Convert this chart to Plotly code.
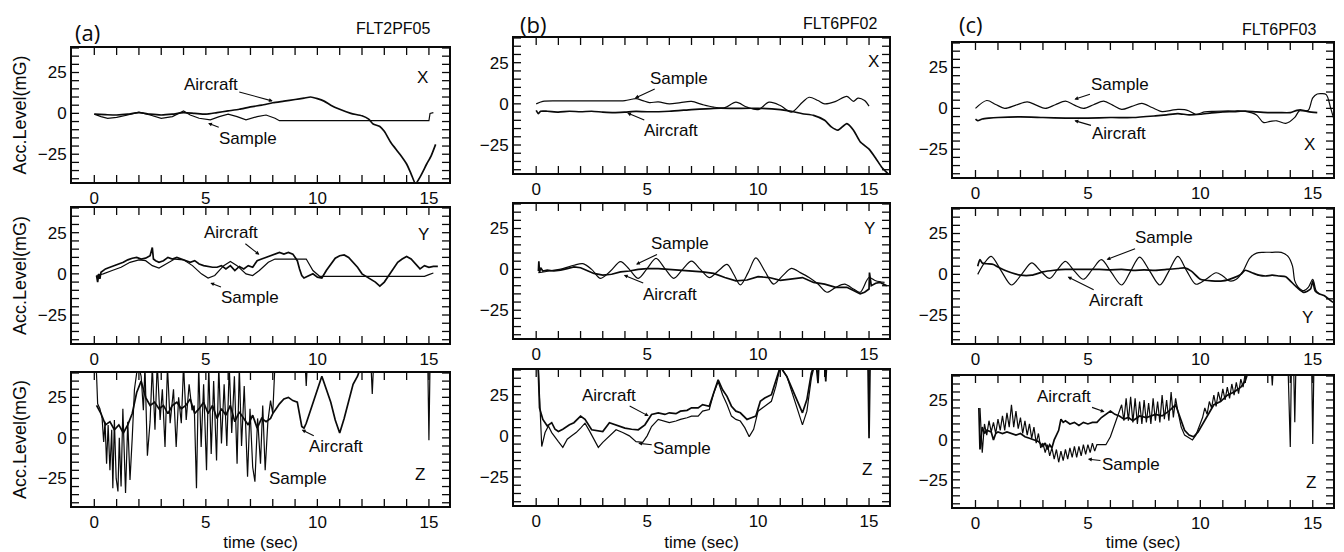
import plotly.graph_objects as go

# ---------------- data: time (sec) / acceleration level (mG) ----------------
# (a) FLT2PF05
aX_air_t = [0, 0.5, 1, 1.5, 2, 2.5, 3, 3.5, 4, 4.5, 5, 5.5, 6, 6.5, 7, 7.5, 8, 8.5, 9, 9.4,
            9.7, 10, 10.3, 10.6, 11, 11.5, 12, 12.3, 12.5, 12.8, 13, 13.3, 13.7, 14, 14.2, 14.4, 14.6, 14.9, 15.1, 15.3]
aX_air_v = [-0.5, -0.8, -1, -0.5, 0.5, -0.5, -1, -0.5, 0.5, 0, -0.5, 0.5, 1.5, 2.5, 4, 5, 6.5, 7.5, 8.5, 9.3,
            10, 9, 7.5, 5, 2.5, 0, -1.5, -3.5, -6.5, -8, -11, -18, -25, -31, -37, -43, -39, -31, -26, -19]
aX_smp_t = [0, 0.3, 0.6, 1, 1.5, 2, 2.5, 3, 3.5, 4, 4.3, 4.7, 5.2, 5.6, 6, 6.4, 6.8, 7.3, 7.7, 8.1, 8.3, 15, 15.05, 15.2]
aX_smp_v = [-0.5, -2, -3, -2.5, -1, 0.8, -1, -3, -2, 1.5, -1, -3, -4, -2, -0.5, -2, -4, -2, -1, -3, -4.5, -4.5, 0, 0.5]

aY_air_t = [0.1, 0.15, 0.2, 0.25, 0.3, 0.5, 0.7, 0.9, 1.1, 1.3, 1.5, 1.7, 1.9, 2.1, 2.3, 2.5, 2.6, 2.65, 2.75, 2.9,
            3.1, 3.3, 3.5, 3.7, 3.9, 4.1, 4.3, 4.5, 4.7, 4.9, 5.1, 5.3, 5.5, 5.7, 5.9, 6.1, 6.3, 6.5, 6.7, 6.9,
            7.1, 7.3, 7.5, 7.7, 7.9, 8.1, 8.3, 8.5, 8.7, 8.9, 9.1, 9.2, 9.3, 9.4, 9.6, 9.8, 10.0, 10.2, 10.4, 10.6,
            10.8, 11.0, 11.2, 11.4, 11.6, 11.8, 12.0, 12.2, 12.4, 12.6, 12.8, 13.0, 13.2, 13.4, 13.6, 13.8, 14.0, 14.2, 14.4, 14.6,
            14.8, 15.0, 15.2, 15.4]
aY_air_v = [-1, -5, 0, -3, 1, 3, 4, 5, 6, 7, 8.5, 9.5, 10, 9, 9.5, 11, 16, 9, 8, 7,
            8, 10, 9, 10, 9, 8, 7, 8, 6, 5, 4.5, 4, 4, 5, 3, 5, 2, 4.5, 3, 5,
            4, 8, 9, 10, 11, 12, 13, 12, 13, 12, 8, 3, -1, -2.5, -1, 0, -2, -2.5, 2, 6,
            9.5, 11, 11.5, 10, 7, 4, 0, -1.5, -3, -5, -7.5, -5, -1, 3, 7, 9, 10.5, 9, 6, 3,
            5, 4, 4.5, 4.5]
aY_smp_t = [0.1, 0.4, 0.8, 1.2, 1.6, 2.0, 2.3, 2.6, 2.9, 3.2, 3.6, 4.0, 4.4, 4.8, 5.1, 5.4, 5.8, 6.1, 6.4, 6.8,
            7.1, 7.4, 7.8, 8.1, 8.6, 9.1, 9.5, 9.8, 10.1, 10.6, 12.0, 14.8, 15.0, 15.2]
aY_smp_v = [-1, 0, 2, 4, 7, 8.5, 8, 5, 3.5, 6, 9, 8.5, 5, 0, -2.5, -1, 5, 7.5, 5, 0,
            -1, 2, 7, 9, 9, 9, 9, 2, -1.5, -1.5, -1.5, -1.5, -0.5, 0.5]

aZ_air_t = [0.1, 0.3, 0.5, 0.7, 0.9, 1.1, 1.3, 1.5, 1.7, 1.9, 2.1, 2.3, 2.5, 2.7, 2.9, 3.1, 3.3, 3.5, 3.7, 3.9,
            4.1, 4.3, 4.5, 4.7, 4.9, 5.1, 5.3, 5.5, 5.7, 5.9, 6.1, 6.3, 6.5, 6.7, 6.9, 7.1, 7.3, 7.5, 7.7, 7.9,
            8.0, 8.15, 8.3, 8.5, 8.7, 8.9, 9.1, 9.3, 9.4, 9.5, 9.8, 10.0, 10.2, 10.4, 10.6, 10.8, 11.0, 11.2, 11.4, 11.6,
            11.8, 12.0, 15.3]
aZ_air_v = [20, 15, 8, 10, 5, 8, 3, 8, 15, 28, 35, 25, 20, 22, 18, 20, 15, 20, 22, 18,
            20, 24, 15, 18, 22, 15, 20, 12, 18, 14, 20, 10, 16, 12, 8, 14, 6, 12, 10, 12,
            15, 18, 21, 24, 25, 23, 22, 7, 6, 9, 21, 30, 38, 30, 22, 11, 3, 12, 22, 33,
            38, 46, 46]
aZ_smp_t = [0.08, 0.15, 0.25, 0.35, 0.42, 0.48, 0.55, 0.62, 0.7, 0.78, 0.83, 0.9, 0.98, 1.06, 1.12, 1.2, 1.28, 1.35, 1.4, 1.5,
            1.6, 1.7, 1.8, 1.96, 2.1, 2.2, 2.27, 2.38, 2.5, 2.6, 2.72, 2.82, 2.95, 3.05, 3.17, 3.28, 3.4, 3.55, 3.67, 3.78,
            3.9, 4.0, 4.12, 4.25, 4.38, 4.48, 4.58, 4.68, 4.79, 4.9, 5.03, 5.13, 5.24, 5.35, 5.48, 5.58, 5.7, 5.82, 5.94, 6.05,
            6.16, 6.28, 6.4, 6.5, 6.6, 6.72, 6.87, 6.98, 7.1, 7.2, 7.32, 7.45, 7.55, 7.66, 7.78, 7.9, 8.0, 8.1, 9.45, 9.5,
            9.55, 12.4, 12.46, 12.52, 14.95, 15.0, 15.05, 15.1]
aZ_smp_v = [46, 21, 18, 12, -2.5, 10, -16, 8, -20, 5, -31, 11, -25, -33, 0, -30, 18, -22, -34, 10,
            -26, 0, 30, 46, 38, 17, 44, -11, 10, 44, 5, 46, 11, 30, -5.6, 44, 9, 30, -5.6, 25,
            9, 44, 11, 33, 17, 20, -31, 44, -5.6, 33, -20, 44, -10, 35, -14, 44, -3.5, 33, -5, 44,
            3, 38, -16, 44, -5, 32, -24, 18, -18, -27, 12, -16, 20, -20, 10, 23, 15, 46, 46, 32,
            46, 46, 27, 46, 46, -1.5, 46, 46]

# (b) FLT6PF02
bX_air_t = [0, 0.1, 0.2, 0.5, 1, 1.5, 2, 2.5, 3, 3.5, 4, 4.5, 5, 6, 7, 8, 9, 10, 11, 11.5,
            12, 12.5, 13, 13.3, 13.6, 14, 14.3, 14.6, 15, 15.3, 15.6, 15.9]
bX_air_v = [-4, -6, -4.5, -4.5, -5, -4.5, -4.8, -4.5, -5, -5.3, -5, -4.6, -4.8, -4.5, -3.5, -2.7, -2.7, -2.7, -3.5, -4.5,
            -6, -7, -10, -14, -16, -12, -16, -23, -27.5, -33, -39, -43]
bX_smp_t = [0, 0.3, 1, 2, 3, 4, 4.3, 4.5, 4.8, 5.1, 5.5, 6, 6.5, 7, 7.5, 8, 8.5, 9, 9.5, 10,
            10.5, 11, 11.5, 12, 12.3, 12.7, 13, 13.5, 14, 14.3, 14.5, 14.8, 15]
bX_smp_v = [0, 1.5, 1.8, 1.8, 1.8, 2, 2.8, 3.2, 2, 0.8, 1.2, 0, 0.8, 1.5, -0.5, -2, -2.3, 1, -2, -3.5,
            1, -1, -5, 1, 4, 2, 0, 1.5, 4.5, 1.5, 3.5, 2, -1.4]

bY_air_t = [0.1, 0.12, 0.15, 0.2, 0.3, 0.5, 0.8, 1.1, 1.4, 1.7, 2.0, 2.3, 2.6, 3.0, 3.4, 3.8, 4.2, 4.6, 5.0, 5.5,
            6.0, 6.5, 7.0, 7.5, 8.0, 8.5, 9.0, 9.5, 10.0, 10.5, 11.0, 11.5, 12.0, 12.5, 13.0, 13.5, 14.0, 14.3, 14.6, 14.8,
            15.0, 15.02, 15.1, 15.3, 15.5, 15.8]
bY_air_v = [-1, 5, -2, 1, -1, -0.5, -1, -0.5, 0.5, 1.5, 1, -1, -2.5, -3.5, -3, -1.5, -1, 0, 0.5, 0.5,
            0, -0.5, -1, -1.5, -2.5, -5, -7, -6.5, -4.5, -5, -6.7, -6, -5, -8, -9, -11, -11, -13, -15, -14,
            -12, -2, -10, -8.5, -8, -10]
bY_smp_t = [0.1, 0.6, 1.2, 1.7, 2.1, 2.5, 2.9, 3.35, 3.8, 4.2, 4.6, 5.0, 5.4, 5.8, 6.2, 6.6, 7.0, 7.4, 7.8, 8.2,
            8.6, 8.9, 9.2, 9.55, 9.9, 10.3, 10.7, 11.1, 11.5, 11.9, 12.3, 12.7, 13.1, 13.5, 13.9, 14.3, 14.6, 15.0, 15.3, 15.7]
bY_smp_v = [-2, -1, 0.5, 2.5, 3.5, 0, -5.5, -1, 4.7, 0, -5.5, 0.5, 6.7, 0.5, -5.5, 0, 5, 0, -5, -1,
            3, -3, -9.5, -2, 7, -1, -9, -4, 0.6, -2, -5, -9, -14, -11, -9, -12, -14, -5, -7, -8]

bZ_air_t = [0.08, 0.15, 0.3, 0.5, 0.7, 0.85, 1.0, 1.2, 1.5, 1.7, 2.0, 2.2, 2.5, 2.8, 3.0, 3.3, 3.5, 3.7, 4.0, 4.3,
            4.6, 4.9, 5.2, 5.5, 5.8, 6.0, 6.3, 6.5, 6.8, 7.0, 7.3, 7.5, 7.8, 8.0, 8.2, 8.4, 8.6, 8.8, 9.0, 9.2,
            9.5, 9.7, 9.9, 10.1, 10.3, 10.6, 10.8, 11.0, 11.3, 11.5, 11.8, 12.0, 12.2, 12.4, 12.6, 12.7, 12.75, 12.8, 13.0, 13.05,
            13.1, 14.95, 15.0, 15.05, 15.3]
bZ_air_v = [46, 17, 10, 6, 8, 4, 2.6, 4, 6.7, 8, 12, 10, 3.7, 3, 2.6, 8, 7, 6, 4.7, 4,
            3.7, 6.7, 13, 14, 13, 14, 13.5, 15, 15.5, 17, 17, 19, 18, 26, 34, 28, 24, 18, 15, 14,
            10, 11, 12, 21, 23, 25, 33, 42, 36, 30, 20, 14, 22, 38, 46, 32, 46, 46, 46, 33,
            46, 46, -1.5, 46, 46]
bZ_smp_t = [0.08, 0.25, 0.4, 0.55, 0.7, 0.85, 1.0, 1.2, 1.4, 1.6, 1.8, 2.0, 2.2, 2.4, 2.6, 2.8, 3.0, 3.3, 3.6, 3.9,
            4.2, 4.5, 4.8, 5.0, 5.2, 5.5, 5.8, 6.0, 6.3, 6.5, 6.8, 7.0, 7.3, 7.5, 7.8, 8.0, 8.2, 8.4, 8.6, 8.8,
            9.0, 9.2, 9.4, 9.6, 9.8, 10.0, 10.3, 10.6, 10.8, 11.0, 11.3, 11.5, 11.8, 12.0, 12.2, 12.4, 12.6]
bZ_smp_v = [46, -6.5, 2, 6, 2, -1, -3.5, -7, -2, 0, 2, 4.7, 7.7, 3, -2, -7, -4, 0, 3.7, 2,
            0, -3.5, -4, 0, 5.7, 10, 9, 8, 9, 10, 11, 12, 12, 15, 16, 26, 33, 25, 19, 12,
            10, 9, 5, -0.5, 4, 15, 18, 21, 30, 42, 36, 28, 15, 6.7, 15, 35, 46]

# (c) FLT6PF03
cX_air_t = [0, 0.1, 0.3, 0.6, 1, 2, 3, 4, 5, 6, 7, 8, 8.5, 9, 9.5, 10, 10.5, 11, 11.5, 12,
            12.5, 13, 13.5, 14, 14.3, 14.5, 14.8, 15.2]
cX_air_v = [-6.6, -7.5, -6.5, -6, -5.6, -5.2, -5.6, -6, -6, -5.6, -5.6, -4.6, -4, -3.2, -4, -3.6, -2.8, -2.2, -2, -1.6,
            -2.2, -2.6, -2.6, -2.6, -1.2, -1, -2, -2.6]
cX_smp_t = [0, 0.5, 0.9, 1.3, 1.8, 2.3, 2.7, 3.1, 3.55, 4.0, 4.4, 4.8, 5.25, 5.7, 6.1, 6.5, 6.95, 7.4, 7.85, 8.3,
            8.7, 9.0, 9.3, 9.5, 9.8, 10.2, 10.6, 11, 11.5, 12, 12.5, 12.8, 13.1, 13.4, 13.8, 14.2, 14.4, 14.6, 14.8, 15.0,
            15.2, 15.4, 15.6, 15.8, 16.0]
cX_smp_v = [0, 4.8, 2.4, 0, 2, 4, 2, 0, 2.2, 4.4, 2, 0, 2.2, 4.4, 2, -0.6, 1.2, 3, 0.5, -2,
            -1.2, -0.6, -0.8, -1.6, -3.6, -2.2, -1.8, -1.6, -1.6, -1.8, -4, -8.6, -8, -7.6, -9.2, -5.5, -1.6, -1.6, -1.2, 6.4,
            8.8, 9, 8.4, 0, -9.6]

cY_air_t = [0.1, 0.2, 0.3, 0.5, 0.8, 1.0, 1.3, 1.6, 2.0, 2.5, 3.0, 3.5, 4.0, 4.5, 5.0, 5.5, 6.0, 6.5, 7.0, 7.5,
            8.0, 8.5, 9.0, 9.3, 9.6, 10.0, 10.5, 11.0, 11.5, 11.8, 12.0, 12.3, 12.6, 12.9, 13.2, 13.5, 13.8, 14.0, 14.3, 14.6,
            14.9, 15.0, 15.1, 15.3, 15.5, 15.7, 15.9, 16.0]
cY_air_v = [5, 9, 7, 6.5, 6, 4.5, 2.5, 1, -0.5, -0.5, 1.5, 2.5, 3, 3, 3, 3, 2.8, 3, 2.5, 2.7,
            2.5, 3, 3.6, 4, 2, -3, -4, -4, -2, 0, 2.5, 1, -0.5, -1, -0.5, -1, -1.5, -4, -8, -11,
            -9, -4, -10, -12, -13, -15, -17, -14]
cY_smp_t = [0.1, 0.4, 0.7, 1.15, 1.6, 2.05, 2.5, 2.9, 3.3, 3.65, 4.0, 4.4, 4.8, 5.2, 5.6, 6.05, 6.5, 6.9, 7.3, 7.75,
            8.2, 8.6, 9.0, 9.4, 9.8, 10.25, 10.7, 11.0, 11.3, 11.6, 11.9, 12.2, 12.5, 12.8, 13.2, 13.6, 13.9, 14.1, 14.2, 14.35,
            14.6, 14.8, 15.0, 15.15, 15.3]
cY_smp_v = [0, 7, 11, 2, -6.5, 0, 7, 2, -2.5, 3, 8, 2, -3, 3, 9, 1, -6.5, 2, 10.6, 2,
            -6.5, 2, 11, 2, -6, -3, 1, -1, -4, -3, 2, 10, 13, 13.5, 13.5, 13.5, 11, 5, -4, -7.8,
            -10, -8, -3, -10, -12]

cZ_air_t = [0.15, 0.2, 0.3, 0.4, 0.5, 0.7, 0.8, 0.9, 1.0, 1.2, 1.4, 1.6, 1.8, 2.0, 2.2, 2.4, 2.6, 2.8, 3.0, 3.1,
            3.2, 3.3, 3.4, 3.5, 3.6, 3.7, 3.8, 3.9, 4.0, 4.2, 4.4, 4.6, 4.8, 5.0, 5.2, 5.4, 5.6, 5.8, 6.0, 6.2,
            6.4, 6.6, 6.8, 7.0, 7.3, 7.6, 8.0, 8.3, 8.6, 8.9, 9.1, 9.3, 9.5, 9.7, 9.9, 10.1, 10.3, 10.6, 10.9, 11.2,
            11.5, 11.8, 12.0, 12.2, 15.3]
cZ_air_v = [20, -6, 8, 4, 6, 5, 0, 4, 5, 4, 5, 4, 3, 4, 2, 1, 0, -1, -4, -2,
            -6, -3, -5, 0, 3, 6, 13, 11, 12, 10, 11, 9, 11, 10, 11, 11, 14, 16, 18, 16,
            15, 13, 14, 12, 15, 14, 16, 15, 18, 22, 14, 6, 3, 2, 5, 10, 15, 22, 24, 28,
            30, 33, 37, 46, 46]
cZ_smp_t = [0.2, 0.3, 0.4, 0.5, 0.6, 0.7, 0.8, 0.9, 1.0, 1.1, 1.2, 1.3, 1.4, 1.5, 1.6, 1.7, 1.8, 1.9, 2.0, 2.1,
            2.2, 2.3, 2.4, 2.5, 2.6, 2.7, 2.8, 2.9, 3.0, 3.1, 3.2, 3.3, 3.4, 3.5, 3.6, 3.7, 3.8, 3.9, 4.0, 4.1,
            4.2, 4.3, 4.4, 4.5, 4.6, 4.7, 4.8, 4.9, 5.0, 5.1, 5.2, 5.3, 5.4, 5.6, 5.8, 6.0, 6.2, 6.35, 6.5, 6.6,
            6.7, 6.8, 6.9, 7.0, 7.1, 7.2, 7.3, 7.4, 7.5, 7.6, 7.7, 7.8, 7.9, 8.0, 8.1, 8.2, 8.3, 8.4, 8.5, 8.6,
            8.7, 8.8, 8.9, 9.0, 9.15, 9.3, 9.5, 9.65, 9.8, 9.95, 10.1, 10.2, 10.3, 10.4, 10.5, 10.6, 10.7, 10.8, 10.9, 11.0,
            11.1, 11.2, 11.3, 11.4, 11.5, 11.6, 11.7, 11.8, 11.9, 12.0, 12.1, 13.15, 13.2, 13.25, 13.9, 14.0, 14.05, 14.15, 14.2, 14.25,
            14.95, 15.0, 15.05, 15.3]
cZ_smp_v = [20, -8, 10, 3, 12, 5, 11, 4, 13, 6, 15, 6, 17, 8, 22, 8, 18, 7, 14, 4,
            12, 3, 10, 1, 8, -2, 4, -5, -2, -8, -3, -10, -5, -12, -6, -14, -7, -13, -6, -12,
            -5, -11, -4, -11, -4, -10, -3, -9, -3, -8, -2, -7, -3, -3, -3, 2, 10, 16, 22, 12,
            26, 12, 27, 11, 26, 10, 24, 10, 25, 11, 23, 10, 26, 12, 24, 11, 28, 13, 25, 12,
            30, 14, 26, 18, 8, 3, 1, 0, 3, 8, 14, 20, 16, 24, 20, 28, 21, 30, 24, 32,
            25, 33, 26, 35, 28, 36, 29, 38, 33, 42, 46, 46, 34, 46, 46, -4.5, 46, 46, 11, 46,
            46, -2.5, 46, 46]

# tick positions (sec, mG) and the values that carry a label
x_ticks = list(range(0, 16))
x_labelled = [0, 5, 10, 15]
y_ticks = list(range(-40, 41, 5))
y_labelled = [-25, 0, 25]

# ---------------- figure layout ----------------
W, H = 1344, 552
FONT = "Liberation Sans"
INK = "#0a0a0a"

series = [
    [(aX_air_t, aX_air_v, aX_smp_t, aX_smp_v), (bX_air_t, bX_air_v, bX_smp_t, bX_smp_v), (cX_air_t, cX_air_v, cX_smp_t, cX_smp_v)],
    [(aY_air_t, aY_air_v, aY_smp_t, aY_smp_v), (bY_air_t, bY_air_v, bY_smp_t, bY_smp_v), (cY_air_t, cY_air_v, cY_smp_t, cY_smp_v)],
    [(aZ_air_t, aZ_air_v, aZ_smp_t, aZ_smp_v), (bZ_air_t, bZ_air_v, bZ_smp_t, bZ_smp_v), (cZ_air_t, cZ_air_v, cZ_smp_t, cZ_smp_v)],
]
# spline rendering for the slowly varying traces: (aircraft, sample) per panel
smooth = [
    [(True, False), (True, True), (True, True)],
    [(False, False), (False, True), (True, True)],
    [(False, False), (False, False), (False, False)],
]

# panel frames in pixels: column left/right, and per column the row top/bottom
col_px = [(72, 449), (514, 889), (953, 1333)]
row_px = [
    [(48, 182), (208, 343), (373, 506)],
    [(38, 173), (204, 338), (370, 505)],
    [(43, 177), (209, 343), (376, 507)],
]
x_range = [-1.0, 15.9]
y_range = [-42, 40]
TICK_PX = 7


def fmt(v):
    return ("\u2212" + str(-v)) if v < 0 else str(v)


x_text = [fmt(v) if v in x_labelled else "" for v in x_ticks]
y_text = [fmt(v) if v in y_labelled else "" for v in y_ticks]


def tick_marks(w_px, h_px):
    """Inward tick marks on all four frame sides, in the panel's data units."""
    dy = TICK_PX / h_px * (y_range[1] - y_range[0])
    dx = TICK_PX / w_px * (x_range[1] - x_range[0])
    xs, ys = [], []
    for tv in x_ticks:
        xs += [tv, tv, None, tv, tv, None]
        ys += [y_range[0], y_range[0] + dy, None, y_range[1], y_range[1] - dy, None]
    for tv in y_ticks:
        xs += [x_range[0], x_range[0] + dx, None, x_range[1], x_range[1] - dx, None]
        ys += [tv, tv, None, tv, tv, None]
    return xs, ys


fig = go.Figure()
layout = dict(
    width=W, height=H, margin=dict(l=0, r=0, t=0, b=0), template="simple_white",
    showlegend=False, font=dict(family=FONT, size=17, color=INK),
)

for r in range(3):
    for c in range(3):
        k = r * 3 + c + 1
        sx = "" if k == 1 else str(k)
        at, av, st, sv = series[r][c]
        assert len(at) == len(av) and len(st) == len(sv)
        sm_a, sm_s = smooth[r][c]
        x0, x1 = col_px[c]
        y0, y1 = row_px[c][r]

        tx, ty = tick_marks(x1 - x0, y1 - y0)
        fig.add_trace(go.Scatter(x=tx, y=ty, mode="lines", xaxis="x" + sx, yaxis="y" + sx,
                                 line=dict(color=INK, width=1.3), hoverinfo="skip", name="ticks"))
        fig.add_trace(go.Scatter(x=st, y=sv, mode="lines", xaxis="x" + sx, yaxis="y" + sx,
                                 line=dict(color=INK, width=1.2, shape="spline" if sm_s else "linear", smoothing=0.9),
                                 name="Sample"))
        fig.add_trace(go.Scatter(x=at, y=av, mode="lines", xaxis="x" + sx, yaxis="y" + sx,
                                 line=dict(color=INK, width=1.7, shape="spline" if sm_a else "linear", smoothing=0.6),
                                 name="Aircraft"))

        common = dict(showline=True, linecolor=INK, mirror=True, ticks="", showgrid=False, zeroline=False,
                      linewidth=2, tickmode="array")
        xa = dict(common, tickvals=x_ticks, ticktext=x_text,
                  domain=[x0 / W, x1 / W], anchor="y" + sx, range=x_range)
        ya = dict(common, tickvals=y_ticks, ticktext=y_text,
                  domain=[1 - y1 / H, 1 - y0 / H], anchor="x" + sx, range=y_range)
        if c == 0:
            ya["title"] = dict(text="Acc.Level(mG)", font=dict(size=18), standoff=6)
        if r == 2:
            xa["title"] = dict(text="time (sec)", font=dict(size=17), standoff=6)
        layout["xaxis" + sx] = xa
        layout["yaxis" + sx] = ya

fig.update_layout(**layout)


def label(k, text, x, y, ax=None, ay=None, size=17):
    sx = "" if k == 1 else str(k)
    a = dict(xref="x" + sx, yref="y" + sx, x=x, y=y, text=text, showarrow=ax is not None,
             font=dict(size=size, family=FONT, color=INK))
    if ax is not None:
        a.update(ax=ax, ay=ay, arrowhead=2, arrowsize=0.7, arrowwidth=1.1, arrowcolor=INK)
    fig.add_annotation(**a)


# component letters
label(1, "X", 14.7, 22)
label(2, "X", 15.2, 26)
label(3, "X", 14.85, -22)
label(4, "Y", 14.75, 24)
label(5, "Y", 15.0, 25)
label(6, "Y", 14.75, -26.5)
label(7, "Z", 14.6, -22.5)
label(8, "Z", 14.9, -20.6)
label(9, "Z", 14.9, -26.8)

# trace call-outs
label(1, "Aircraft", 8.0, 7.5, -62, -17)
label(1, "Sample", 5.1, -6.0, 40, 15)
label(4, "Aircraft", 7.4, 11.6, -28, -22)
label(4, "Sample", 5.2, -5.5, 40, 15)
label(7, "Aircraft", 9.3, 5, 34, 17)
label(7, "Sample", 9.15, -25)
label(2, "Sample", 4.45, 3.5, 44, -20)
label(2, "Aircraft", 4.1, -5.5, 44, 18)
label(5, "Sample", 4.5, 3, 44, -21)
label(5, "Aircraft", 3.95, -3.5, 46, 19)
label(8, "Aircraft", 5.07, 12, -40, -21)
label(8, "Sample", 4.6, -4.5, 44, 5)
label(3, "Sample", 4.4, 5.5, 46, -15)
label(3, "Aircraft", 4.4, -7.5, 45, 13)
label(6, "Sample", 5.83, 9, 57, -22)
label(6, "Aircraft", 4.1, -1.5, 48, 24)
label(9, "Aircraft", 5.74, 17.5, -41, -15)
label(9, "Sample", 5.0, -12, 43, 5)

# panel headings
for cx, cy, txt, sz, fam in [
    (87, 32, "(a)", 22, "Open Sans"),
    (533, 24, "(b)", 22, "Open Sans"),
    (971, 24, "(c)", 22, "Open Sans"),
    (393, 28, "FLT2PF05", 16, FONT),
    (840, 24, "FLT6PF02", 16, FONT),
    (1279, 29, "FLT6PF03", 16, FONT),
]:
    fig.add_annotation(xref="paper", yref="paper", x=cx / W, y=1 - cy / H, text=txt, showarrow=False,
                       xanchor="center", yanchor="middle", font=dict(size=sz, family=fam, color=INK))

fig.write_html("out.html")
